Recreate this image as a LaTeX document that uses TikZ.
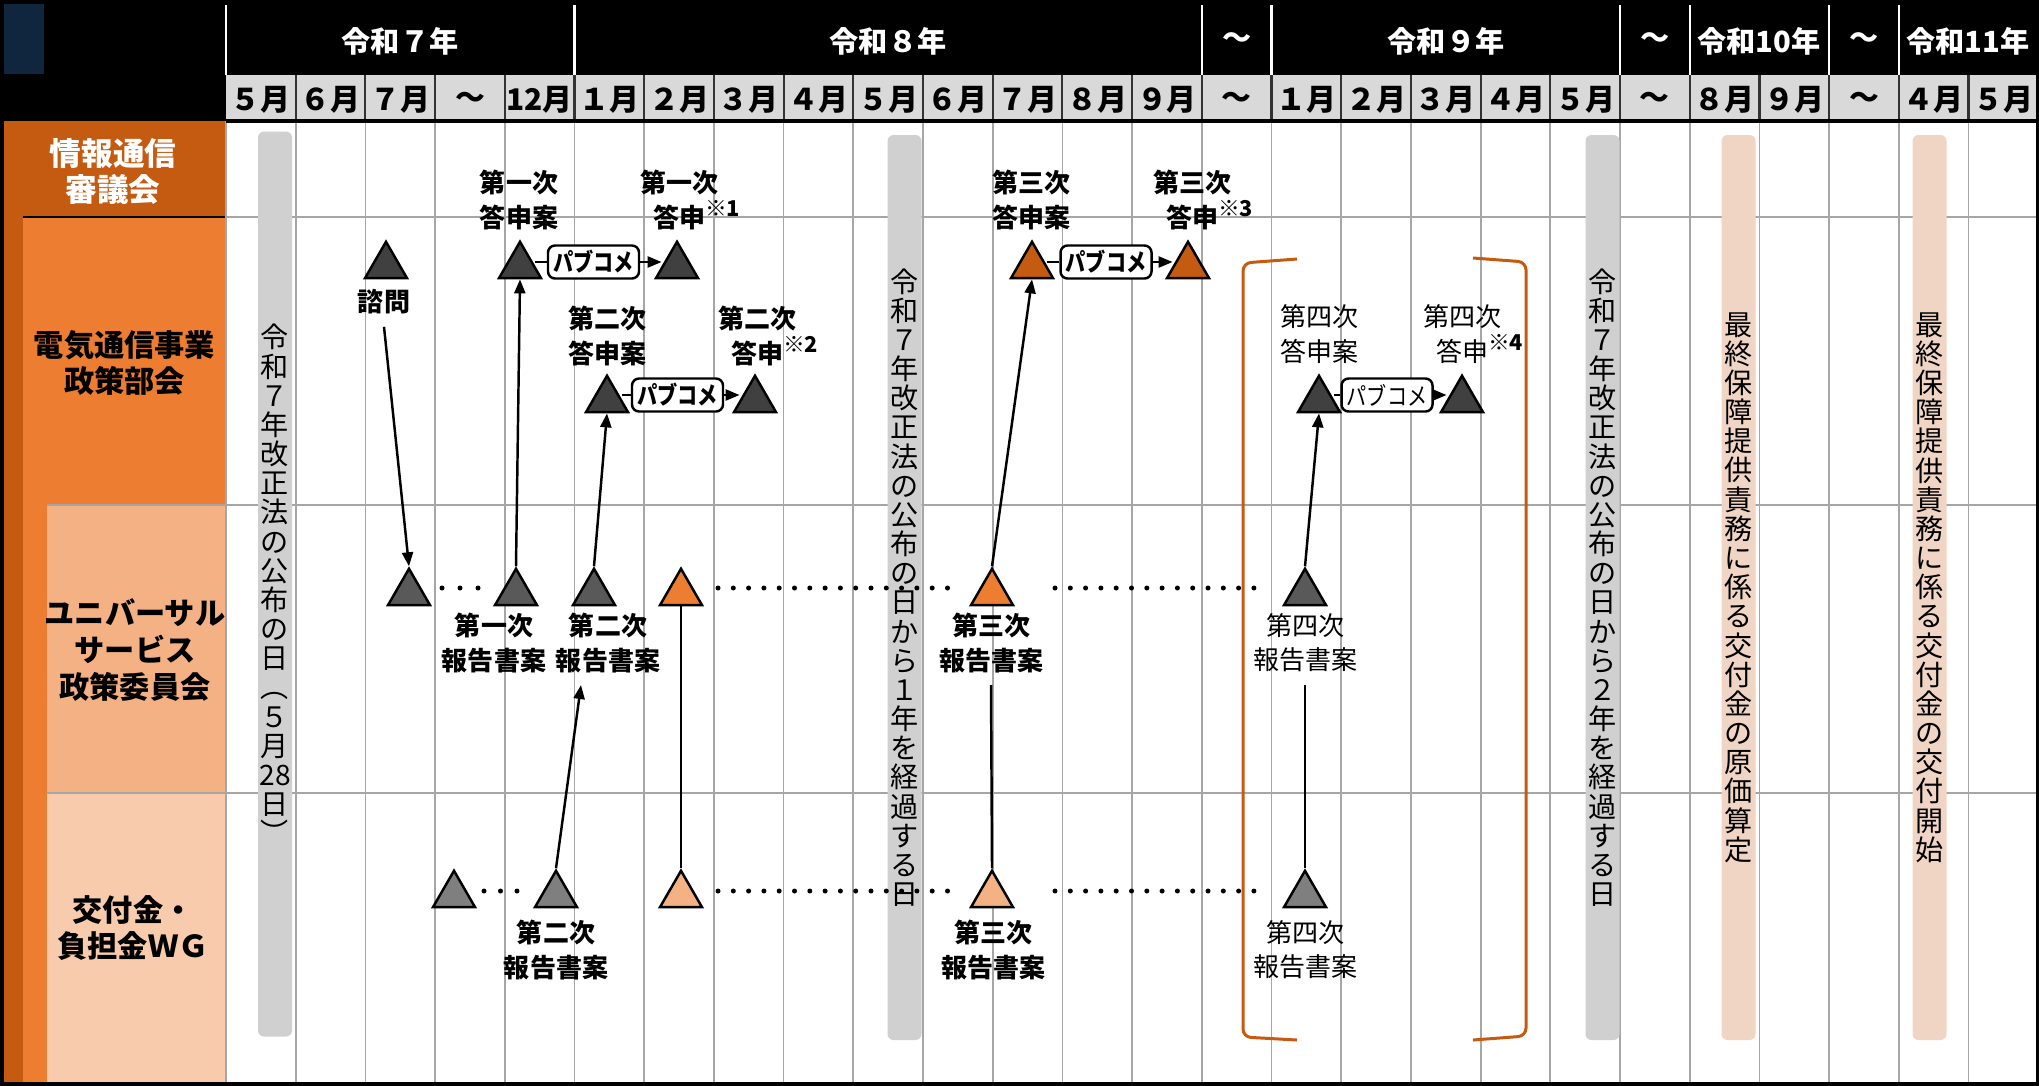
\documentclass[tikz,border=0pt]{standalone}
\usepackage{fontspec}
\setmainfont{Noto Sans CJK JP}
\newfontfamily\hosojp{Noto Sans CJK JP}[FakeStretch=0.82]
\usetikzlibrary{shapes.geometric,arrows.meta}

\definecolor{kokuOrange}{HTML}{C55A11}
\definecolor{daiOrange}{HTML}{ED7D31}
\definecolor{usuOrange}{HTML}{F4B183}
\definecolor{hadaOrange}{HTML}{F8CBAD}
\definecolor{momoBar}{HTML}{F0D5C4}
\definecolor{haiBar}{HTML}{D0D0D0}
\definecolor{tsukiGray}{HTML}{D9D9D9}
\definecolor{konNavy}{HTML}{10263F}
\definecolor{sen}{HTML}{A6A6A6}
\definecolor{kuro}{HTML}{404040}
\definecolor{nezu}{HTML}{595959}
\definecolor{gin}{HTML}{7F7F7F}

\newcommand{\kome}[1]{\rlap{\raisebox{0.4em}{\fontsize{6.2}{7}\selectfont\bfseries ※#1}}}

\tikzset{
  sankaku/.style={regular polygon, regular polygon sides=3, draw=black, line width=0.7pt,
    minimum size=0.485cm, inner sep=0pt},
  futo/.style={align=center, font=\fontsize{7.4}{9.7}\selectfont\bfseries},
  hoso/.style={align=center, font=\fontsize{7.4}{9.7}\selectfont},
  pabu/.style={draw, fill=white, line width=0.7pt, rounded corners=2pt, minimum width=0.91cm,
    minimum height=0.33cm, inner sep=0pt, font=\hosojp\bfseries\fontsize{7}{8}\selectfont},
  nen/.style={text=white, font=\fontsize{8.3}{9}\selectfont\bfseries},
  tsuki/.style={font=\fontsize{8.5}{9}\selectfont\bfseries},
  kanban/.style={align=center, font=\fontsize{8.6}{10.5}\selectfont\bfseries},
  band/.style={rounded corners=0.06cm, minimum width=0.34cm, minimum height=9.05cm,
    inner sep=0pt, align=center, font=\fontsize{8}{8.3}\selectfont},
  haiband/.style={band, fill=haiBar},
  momoband/.style={band, fill=momoBar},
  tenten/.style={line width=0.05cm, line cap=round, dash pattern=on 0pt off #1},
  tenten/.default=0.153cm,
  ya/.style={line width=0.7pt, -{Triangle[length=0.14cm,width=0.11cm]}},
  bo/.style={line width=0.7pt}
}

\begin{document}
\begin{tikzpicture}
\useasboundingbox (0,0) rectangle (20.39,-10.85);

% header
\fill[black] (0,0) rectangle (20.39,-1.21);
\fill[konNavy] (0.04,-0.04) rectangle (0.44,-0.74);
\fill[tsukiGray] (2.26,-0.75) rectangle (20.39,-1.21);
\foreach \x in {0,5,14,15,20,21,23,24}
  \draw[white, line width=0.6pt] ({2.26+0.697*\x},-0.05) -- ({2.26+0.697*\x},-0.75);
\foreach \x in {1,...,25}
  \draw[black!80, line width=0.6pt] ({2.26+0.697*\x},-0.75) -- ({2.26+0.697*\x},-1.21);

\node[nen] (nen7) at (4.00,-0.41) {令和７年};
\node[nen] (nen8) at (8.88,-0.41) {令和８年};
\node[nen] (kara1) at (12.37,-0.41) {～};
\node[nen] (nen9) at (14.46,-0.41) {令和９年};
\node[nen] (kara2) at (16.55,-0.41) {～};
\node[nen] (nen10) at (17.59,-0.41) {令和10年};
\node[nen] (kara3) at (18.64,-0.41) {～};
\node[nen] (nen11) at (19.68,-0.41) {令和11年};

\foreach \m [count=\i from 0] in {５月,６月,７月,～,12月,１月,２月,３月,４月,５月,６月,７月,８月,９月,～,１月,２月,３月,４月,５月,～,８月,９月,～,４月,５月}
  \node[tsuki] (tsuki\i) at ({2.6085+0.697*\i},-1.00) {\m};

% left labels
\fill[kokuOrange] (0,-1.21) rectangle (2.26,-10.85);
\fill[daiOrange] (0.23,-2.17) rectangle (2.26,-10.85);
\fill[usuOrange] (0.47,-5.05) rectangle (2.26,-7.93);
\fill[hadaOrange] (0.47,-7.93) rectangle (2.26,-10.85);
\draw[black, line width=0.5pt] (0.23,-2.17) -- (2.26,-2.17);
\draw[sen, line width=0.5pt] (0.47,-5.05) -- (2.26,-5.05);
\draw[sen, line width=0.5pt] (0.47,-7.93) -- (2.26,-7.93);

\node[kanban, text=white, font=\fontsize{9}{10.5}\selectfont\bfseries] (shingikai) at (1.13,-1.715) {情報通信\\審議会};
\node[kanban] (bukai) at (1.245,-3.63) {電気通信事業\\政策部会};
\node[kanban] (iinkai) at (1.35,-6.50) {ユニバーサル\\サービス\\政策委員会};
\node[kanban] (wg) at (1.33,-9.28) {交付金・\\負担金ＷＧ};

% grid
\fill[white] (2.26,-1.21) rectangle (20.39,-10.85);
\foreach \x in {0,...,25}
  \draw[sen, line width=0.5pt] ({2.26+0.697*\x},-1.21) -- ({2.26+0.697*\x},-10.85);
\foreach \y in {-2.17,-5.05,-7.93}
  \draw[sen, line width=0.6pt] (2.26,\y) -- (20.39,\y);
\draw[black, line width=1.2pt] (2.26,-1.21) -- (20.39,-1.21);

% bands
\node[haiband] (kofu0) at (2.75,-5.84) {令\\和\\７\\年\\改\\正\\法\\の\\公\\布\\の\\日\\︵\\５\\月\\28\\日\\︶};
\node[haiband] (kofu1) at (9.045,-5.875) {令\\和\\７\\年\\改\\正\\法\\の\\公\\布\\の\\日\\か\\ら\\１\\年\\を\\経\\過\\す\\る\\日};
\node[haiband] (kofu2) at (16.025,-5.875) {令\\和\\７\\年\\改\\正\\法\\の\\公\\布\\の\\日\\か\\ら\\２\\年\\を\\経\\過\\す\\る\\日};
\node[momoband] (genka) at (17.385,-5.875) {最\\終\\保\\障\\提\\供\\責\\務\\に\\係\\る\\交\\付\\金\\の\\原\\価\\算\\定};
\node[momoband] (kaishi) at (19.295,-5.875) {最\\終\\保\\障\\提\\供\\責\\務\\に\\係\\る\\交\\付\\金\\の\\交\\付\\開\\始};

% bracket
\draw[kokuOrange, line width=0.03cm, rounded corners=0.08cm] (12.97,-2.59) -- (12.43,-2.63) -- (12.43,-10.37) -- (12.97,-10.40);
\draw[kokuOrange, line width=0.03cm, rounded corners=0.08cm] (14.73,-2.58) -- (15.26,-2.62) -- (15.26,-10.36) -- (14.73,-10.40);

% bukai
\node[sankaku, fill=kuro] (shimon) at (3.86,-2.66) {};
\node[futo] (lshimon) at (3.84,-3.02) {諮問};
\node[sankaku, fill=kuro] (an1) at (5.20,-2.66) {};
\node[futo] (lan1) at (5.19,-2.00) {第一次\\答申案};
\node[pabu] (pc1) at (5.935,-2.62) {パブコメ};
\node[sankaku, fill=kuro] (ts1) at (6.77,-2.66) {};
\node[futo] (lts1) at (6.79,-2.00) {第一次\\答申\kome{1}};
\node[sankaku, fill=kuro] (an2) at (6.07,-4.00) {};
\node[futo] (lan2) at (6.07,-3.36) {第二次\\答申案};
\node[pabu] (pc2) at (6.775,-3.95) {パブコメ};
\node[sankaku, fill=kuro] (ts2) at (7.55,-4.00) {};
\node[futo] (lts2) at (7.57,-3.36) {第二次\\答申\kome{2}};
\node[sankaku, fill=kokuOrange] (an3) at (10.32,-2.66) {};
\node[futo] (lan3) at (10.31,-2.00) {第三次\\答申案};
\node[pabu] (pc3) at (11.06,-2.62) {パブコメ};
\node[sankaku, fill=kokuOrange] (ts3) at (11.88,-2.66) {};
\node[futo] (lts3) at (11.92,-2.00) {第三次\\答申\kome{3}};
\node[sankaku, fill=kuro] (an4) at (13.19,-4.00) {};
\node[hoso] (lan4) at (13.19,-3.34) {第四次\\答申案};
\node[pabu, font=\hosojp\fontsize{7}{8}\selectfont] (pc4) at (13.87,-3.95) {パブコメ};
\node[sankaku, fill=kuro] (ts4) at (14.62,-4.00) {};
\node[hoso] (lts4) at (14.62,-3.34) {第四次\\答申\kome{4}};

% iinkai
\node[sankaku, fill=nezu] (iin0) at (4.09,-5.93) {};
\node[sankaku, fill=nezu] (iin1) at (5.16,-5.93) {};
\node[futo] (liin1) at (4.94,-6.43) {第一次\\報告書案};
\node[sankaku, fill=nezu] (iin2) at (5.94,-5.93) {};
\node[futo] (liin2) at (6.08,-6.43) {第二次\\報告書案};
\node[sankaku, fill=daiOrange] (iin2b) at (6.81,-5.93) {};
\node[sankaku, fill=daiOrange] (iin3) at (9.92,-5.93) {};
\node[futo] (liin3) at (9.91,-6.43) {第三次\\報告書案};
\node[sankaku, fill=nezu] (iin4) at (13.05,-5.93) {};
\node[hoso] (liin4) at (13.05,-6.43) {第四次\\報告書案};

% wg
\node[sankaku, fill=gin] (wg0) at (4.54,-8.95) {};
\node[sankaku, fill=gin] (wg2) at (5.56,-8.95) {};
\node[futo] (lwg2) at (5.56,-9.50) {第二次\\報告書案};
\node[sankaku, fill=usuOrange] (wg2b) at (6.81,-8.95) {};
\node[sankaku, fill=usuOrange] (wg3) at (9.92,-8.95) {};
\node[futo] (lwg3) at (9.93,-9.50) {第三次\\報告書案};
\node[sankaku, fill=gin] (wg4) at (13.05,-8.95) {};
\node[hoso] (lwg4) at (13.05,-9.50) {第四次\\報告書案};

% dots
\draw[tenten=0.18cm, shorten <=0.33cm, shorten >=0.36cm] ([yshift=0.05cm]iin0.center) -- ([yshift=0.05cm]iin1.center);
\draw[tenten, shorten <=0.37cm, shorten >=0.43cm] ([yshift=0.05cm]iin2b.center) -- ([yshift=0.05cm]iin3.center);
\draw[tenten, shorten <=0.63cm, shorten >=0.47cm] ([yshift=0.05cm]iin3.center) -- ([yshift=0.05cm]iin4.center);
\draw[tenten=0.165cm, shorten <=0.30cm, shorten >=0.38cm] ([yshift=0.04cm]wg0.center) -- ([yshift=0.04cm]wg2.center);
\draw[tenten, shorten <=0.37cm, shorten >=0.43cm] ([yshift=0.04cm]wg2b.center) -- ([yshift=0.04cm]wg3.center);
\draw[tenten, shorten <=0.63cm, shorten >=0.47cm] ([yshift=0.04cm]wg3.center) -- ([yshift=0.04cm]wg4.center);

% pabukome
\draw[bo] (an1.east |- pc1.west) -- (pc1.west);
\draw[ya] (pc1.east) -- (pc1.east -| ts1.west);
\draw[bo] (an2.east |- pc2.west) -- (pc2.west);
\draw[ya] (pc2.east) -- (pc2.east -| ts2.west);
\draw[bo] (an3.east |- pc3.west) -- (pc3.west);
\draw[ya] (pc3.east) -- (pc3.east -| ts3.west);
\draw[bo] (an4.east |- pc4.west) -- (pc4.west);
\draw[ya] (pc4.east) -- (pc4.east -| ts4.west);

% vertical links
\draw[ya] (lshimon.south) -- (iin0.north);
\draw[ya] (iin1.north) -- (an1.south);
\draw[ya] (iin2.north) -- (an2.south);
\draw[ya] (wg2.north) -- ([xshift=-0.27cm]liin2.south);
\draw[bo] (wg2b.north) -- (iin2b.south);
\draw[ya] (iin3.north) -- (an3.south);
\draw[bo] (liin3.south) -- (wg3.north);
\draw[ya] (iin4.north) -- (an4.south);
\draw[bo] (liin4.south) -- (wg4.north);

\draw[black, line width=0.07cm] (0,0) rectangle (20.39,-10.85);
\end{tikzpicture}
\end{document}
